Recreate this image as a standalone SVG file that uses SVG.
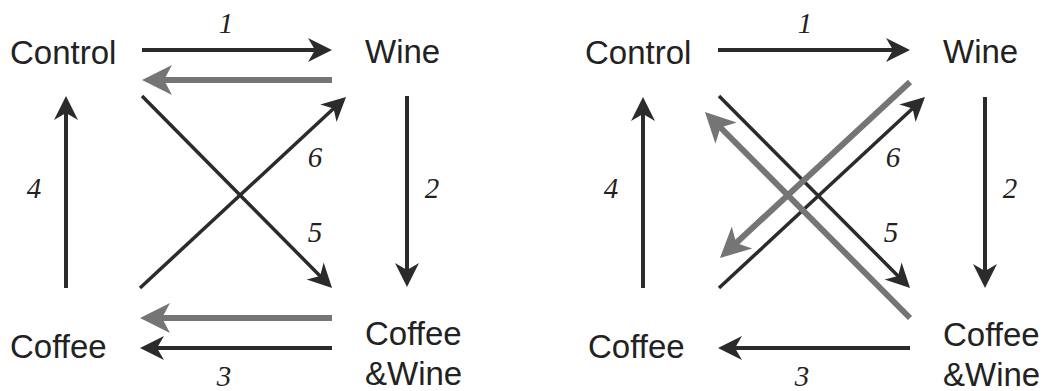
<svg xmlns="http://www.w3.org/2000/svg" width="1052" height="391" viewBox="0 0 1052 391">
<style>
.n{font-family:"Liberation Sans",Arial,sans-serif;font-size:33px;fill:#222}
.l{font-family:"Liberation Serif","Times New Roman",serif;font-style:italic;font-size:29px;fill:#222;text-anchor:middle}
.d{stroke:#2b2b2b;stroke-width:4;fill:none;marker-end:url(#hd)}
.dl{stroke:#2b2b2b;stroke-width:3.5;fill:none}
.g{stroke:#757575;stroke-width:6;fill:none;marker-end:url(#hg)}
</style>
<defs>
<marker id="hd" viewBox="-16 -13 28 26" refX="0" refY="0" markerWidth="28" markerHeight="26" markerUnits="userSpaceOnUse" orient="auto">
<path d="M10,0 L-14,-12 L-7,0 L-14,12 Z" fill="#2b2b2b"/>
</marker>
<marker id="hg" viewBox="-24 -17 36 34" refX="0" refY="0" markerWidth="36" markerHeight="34" markerUnits="userSpaceOnUse" orient="auto">
<path d="M10,0 L-20,-15 L-12,0 L-20,15 Z" fill="#757575"/>
</marker>
</defs>
<g id="connectors">
<path class="d" d="M142,50 H322"/>
<path class="g" d="M332,80 H152"/>
<path class="d" d="M407,96 V277"/>
<path class="d" d="M66,288 V106"/>
<path class="g" d="M332,318 H150"/>
<path class="d" d="M332,348 H150"/>
<path class="dl" d="M142,96 L325,281" style="marker-end:url(#hd)"/>
<path class="dl" d="M140,288 L338.7,103.8" style="marker-end:url(#hd)"/>
<path class="d" d="M718,50 H900"/>
<path class="d" d="M985,97 V278"/>
<path class="d" d="M643,288 V107"/>
<path class="d" d="M910,348 H728"/>
<path class="dl" d="M719,96 L903,281" style="marker-end:url(#hd)"/>
<path class="dl" d="M719,288 L917.7,103.8" style="marker-end:url(#hd)"/>
<path class="g" d="M910,318 L712,119"/>
<path class="g" d="M910,82 L727.3,251.2"/>
</g>
<g id="labels">
<text class="l" x="226" y="33">1</text>
<text class="l" x="432" y="198">2</text>
<text class="l" x="224" y="386">3</text>
<text class="l" x="34" y="198">4</text>
<text class="l" x="315" y="242">5</text>
<text class="l" x="315" y="167">6</text>
<text class="l" x="805" y="33">1</text>
<text class="l" x="1010" y="198">2</text>
<text class="l" x="802" y="386">3</text>
<text class="l" x="611" y="198">4</text>
<text class="l" x="891" y="242">5</text>
<text class="l" x="893" y="167">6</text>
</g>
<g id="left-control"><text class="n" x="10" y="64">Control</text></g>
<g id="left-wine"><text class="n" x="365" y="63">Wine</text></g>
<g id="left-coffee"><text class="n" x="10" y="358">Coffee</text></g>
<g id="left-coffeewine"><text class="n" x="365" y="345">Coffee</text><text class="n" x="365" y="385">&amp;Wine</text></g>
<g id="right-control"><text class="n" x="585" y="64">Control</text></g>
<g id="right-wine"><text class="n" x="943" y="63">Wine</text></g>
<g id="right-coffee"><text class="n" x="588" y="358">Coffee</text></g>
<g id="right-coffeewine"><text class="n" x="943" y="346">Coffee</text><text class="n" x="943" y="386">&amp;Wine</text></g>
</svg>
